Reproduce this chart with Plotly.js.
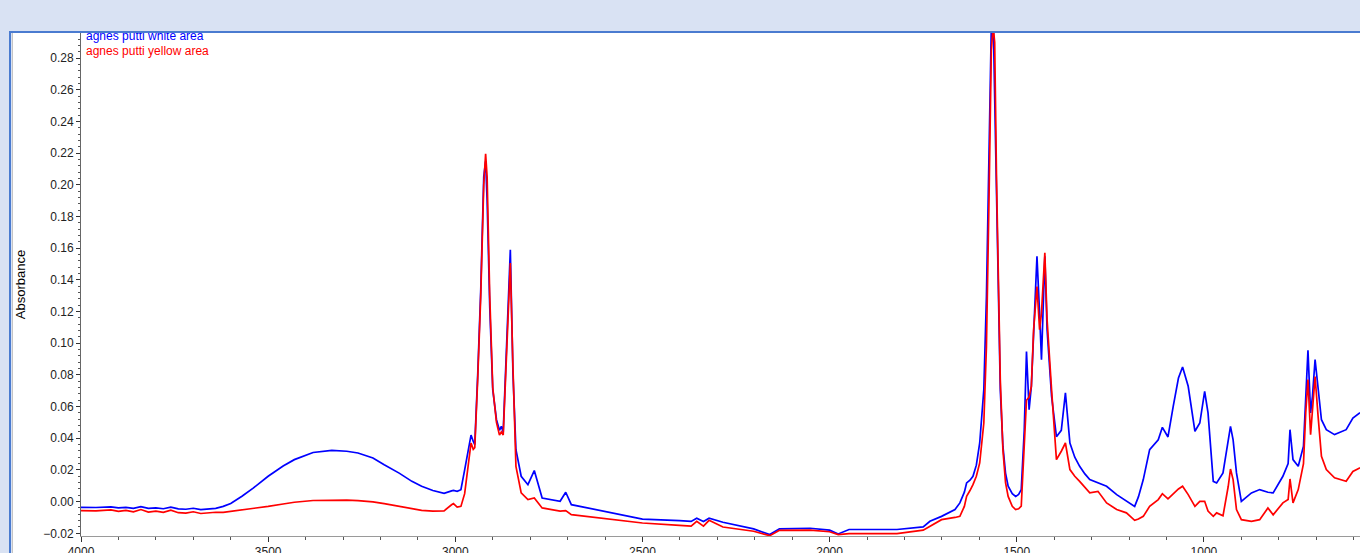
<!DOCTYPE html>
<html>
<head>
<meta charset="utf-8">
<script src="https://cdn.plot.ly/plotly-3.0.1.min.js"></script>
<style>
  html, body { margin: 0; padding: 0; width: 1360px; height: 553px; overflow: hidden; background: #d9e2f3; }
  #sheet { position: absolute; left: 12px; top: 33px; width: 1348px; height: 520px; background: #fff; border-left: 1px solid #c4c4c4; }
  #chart { position: absolute; left: 0; top: 0; width: 1360px; height: 553px; }
  #topband { position: absolute; left: 0; top: 0; width: 1360px; height: 31px; background: #d9e2f3; border-bottom: 2px solid #4a7bd0; pointer-events: none; }
  #leftband { position: absolute; left: 0; top: 31px; width: 9px; height: 522px; background: #d9e2f3; border-right: 2px solid #4a7bd0; pointer-events: none; }
</style>
</head>
<body>
<div id="sheet"></div>
<div id="chart"></div>
<div id="topband"></div>
<div id="leftband"></div>
<script>
// wavenumbers (cm-1)
const wavenumber = [
  4000, 3960, 3920, 3900, 3880, 3860, 3840, 3820, 3800, 3780, 3760, 3740, 3720, 3700, 3680, 3660, 3640, 3620, 3600,
  3570, 3540, 3500, 3460, 3430, 3380, 3330, 3290, 3260, 3220, 3190, 3150, 3116, 3090, 3060, 3030, 3010, 3005, 2995,
  2985, 2975, 2965, 2958, 2952, 2948, 2940, 2932, 2924, 2919, 2915, 2908, 2900, 2890, 2882, 2877, 2872, 2866, 2853,
  2846, 2838, 2824, 2806, 2789, 2778, 2768, 2720, 2705, 2690, 2613, 2500, 2401, 2370, 2355, 2337, 2322, 2285, 2203,
  2160, 2134, 2052, 2000, 1977, 1948, 1820, 1750, 1732, 1701, 1665, 1652, 1640, 1634, 1625, 1617, 1608, 1599, 1588, 1581, 1574, 1568, 1563,
  1559, 1554, 1550, 1544, 1537, 1530, 1523, 1512, 1503, 1495, 1488, 1480, 1474, 1467, 1461, 1455, 1446, 1439, 1434, 1425, 1419, 1407,
  1394, 1381, 1370, 1358, 1345, 1332, 1318, 1305, 1283, 1260, 1233, 1207, 1185, 1175, 1162, 1145, 1122, 1111, 1096, 1082, 1068, 1057, 1042,
  1024, 1011, 998, 989, 975, 966, 949, 935, 929, 922, 913, 900, 873, 851, 829, 815, 789, 775, 770, 762, 748, 734,
  728, 722, 715, 710, 703, 695, 686, 673, 651, 620, 602, 584, 570
];

// agnes putti white area
const whiteArea = [
  -0.0036, -0.0037, -0.0033, -0.0040, -0.0036, -0.0042, -0.0032, -0.0043, -0.0040, -0.0045, -0.0035, -0.0046, -0.0048, -0.0042, -0.0050, -0.0046, -0.0043, -0.0030, -0.0012,
  0.0034, 0.0085, 0.0160, 0.0225, 0.0265, 0.0310, 0.0324, 0.0318, 0.0307, 0.0275, 0.0233, 0.0180, 0.0128, 0.0097, 0.0070, 0.0052, 0.0068, 0.0071, 0.0065,
  0.0075, 0.0200, 0.0340, 0.0420, 0.0380, 0.0360, 0.0810, 0.1340, 0.2050, 0.2150, 0.1900, 0.1230, 0.0707, 0.0517, 0.0450, 0.0475, 0.0440, 0.0810, 0.1590,
  0.0810, 0.0328, 0.0160, 0.0107, 0.0196, 0.0100, 0.0023, 0.0002, 0.0059, -0.0019, -0.0055, -0.0110, -0.0120, -0.0125, -0.0105, -0.0125, -0.0105, -0.0130, -0.0172,
  -0.0208, -0.0172, -0.0168, -0.0180, -0.0204, -0.0176, -0.0176, -0.0160, -0.0124, -0.0093, -0.0050, -0.0008, 0.0060, 0.0118, 0.0135, 0.0160, 0.0230, 0.0370, 0.0707, 0.1295, 0.2240, 0.3000, 0.3050,
  0.2557, 0.1926, 0.1295, 0.0707, 0.0350, 0.0180, 0.0097, 0.0050, 0.0033, 0.0045, 0.0076, 0.0450, 0.0948, 0.0580, 0.0728, 0.1085, 0.1548, 0.1190, 0.0896, 0.1548, 0.1085, 0.0665,
  0.0410, 0.0450, 0.0686, 0.0370, 0.0280, 0.0223, 0.0175, 0.0139, 0.0118, 0.0097, 0.0044, 0.0002, -0.0030, 0.0030, 0.0139, 0.0328, 0.0390, 0.0469, 0.0408, 0.0601, 0.0780, 0.0850, 0.0728,
  0.0444, 0.0496, 0.0696, 0.0560, 0.0128, 0.0118, 0.0181, 0.0370, 0.0475, 0.0390, 0.0181, 0.0002, 0.0055, 0.0076, 0.0059, 0.0055, 0.0160, 0.0240, 0.0454, 0.0265, 0.0223, 0.0350,
  0.0665, 0.0955, 0.0560, 0.0665, 0.0896, 0.0696, 0.0517, 0.0454, 0.0423, 0.0454, 0.0528, 0.0559, 0.0575
];

// agnes putti yellow area
const yellowArea = [
  -0.0057, -0.0058, -0.0052, -0.0062, -0.0055, -0.0065, -0.0050, -0.0066, -0.0060, -0.0068, -0.0054, -0.0070, -0.0073, -0.0064, -0.0075, -0.0070, -0.0067, -0.0068, -0.0062,
  -0.0055, -0.0045, -0.0030, -0.0015, -0.0004, 0.0007, 0.0010, 0.0009, 0.0006, -0.0002, -0.0013, -0.0030, -0.0046, -0.0055, -0.0060, -0.0058, -0.0020, -0.0013, -0.0035,
  -0.0030, 0.0050, 0.0250, 0.0370, 0.0330, 0.0340, 0.0780, 0.1300, 0.2000, 0.2195, 0.2050, 0.1300, 0.0720, 0.0500, 0.0420, 0.0440, 0.0420, 0.0780, 0.1506,
  0.0850, 0.0223, 0.0055, 0.0013, 0.0023, -0.0010, -0.0040, -0.0060, -0.0057, -0.0082, -0.0103, -0.0135, -0.0150, -0.0155, -0.0125, -0.0155, -0.0118, -0.0160, -0.0187,
  -0.0215, -0.0181, -0.0180, -0.0190, -0.0208, -0.0202, -0.0202, -0.0180, -0.0156, -0.0114, -0.0100, -0.0093, -0.0030, 0.0033, 0.0070, 0.0107, 0.0160, 0.0244, 0.0496, 0.0980, 0.1926, 0.2850, 0.3000,
  0.2900, 0.2030, 0.1506, 0.0770, 0.0328, 0.0120, 0.0033, -0.0030, -0.0050, -0.0045, -0.0029, 0.0350, 0.0640, 0.0660, 0.0728, 0.1085, 0.1358, 0.1085, 0.1190, 0.1570, 0.1150, 0.0707,
  0.0265, 0.0318, 0.0370, 0.0202, 0.0160, 0.0128, 0.0090, 0.0055, 0.0065, -0.0008, -0.0050, -0.0071, -0.0118, -0.0110, -0.0093, -0.0030, 0.0013, 0.0050, 0.0017, 0.0050, 0.0080, 0.0097, 0.0044,
  -0.0030, 0.0002, 0.0002, -0.0060, -0.0093, -0.0071, -0.0090, 0.0097, 0.0206, 0.0139, -0.0050, -0.0114, -0.0124, -0.0114, -0.0040, -0.0083, -0.0008, 0.0013, 0.0143, -0.0008, 0.0076, 0.0240,
  0.0560, 0.0770, 0.0423, 0.0560, 0.0790, 0.0540, 0.0286, 0.0202, 0.0150, 0.0128, 0.0190, 0.0212, 0.0225
];

const seriesNames = ["agnes putti white area", "agnes putti yellow area"];
const seriesColors = ["#0000ff", "#ff0000"];

const traces = [whiteArea, yellowArea].map((ys, i) => ({
  x: wavenumber,
  y: ys,
  name: seriesNames[i],
  type: "scatter",
  mode: "lines",
  line: {color: seriesColors[i], width: 1.7},
  hoverinfo: "skip"
}));

const tickFont = {family: "Liberation Sans, Arial, sans-serif", size: 12, color: "#222"};

const layout = {
  width: 1360,
  height: 553,
  margin: {l: 81, r: 0, t: 33, b: 17},
  paper_bgcolor: "rgba(0,0,0,0)",
  plot_bgcolor: "#ffffff",
  showlegend: false,
  xaxis: {
    range: [4000, 583],
    dtick: 500,
    tick0: 0,
    ticks: "outside",
    ticklen: 5,
    tickcolor: "#333",
    minor: {dtick: 100, ticks: "outside", ticklen: 3, tickcolor: "#555"},
    showline: true,
    linecolor: "#9a9a9a",
    linewidth: 1,
    showgrid: false,
    zeroline: false,
    tickfont: tickFont
  },
  yaxis: {
    range: [-0.0217, 0.2958],
    dtick: 0.02,
    tick0: 0,
    tickformat: ".2f",
    ticks: "outside",
    ticklen: 4,
    tickcolor: "#333",
    minor: {dtick: 0.004, ticks: "outside", ticklen: 2, tickcolor: "#555"},
    showline: true,
    linecolor: "#666",
    linewidth: 1,
    showgrid: false,
    zeroline: false,
    tickfont: tickFont,
    title: {text: "Absorbance", standoff: 14, font: {family: "Liberation Sans, Arial, sans-serif", size: 13, color: "#000"}}
  },
  annotations: seriesNames.map((n, i) => ({
    text: n,
    xref: "paper", yref: "paper",
    x: 0.002, y: i === 0 ? 0.994 : 0.964,
    xanchor: "left", yanchor: "middle",
    showarrow: false,
    font: {family: "Liberation Sans, Arial, sans-serif", size: 12, color: seriesColors[i]}
  }))
};

Plotly.newPlot("chart", traces, layout, {displayModeBar: false, staticPlot: true});
</script>
</body>
</html>
